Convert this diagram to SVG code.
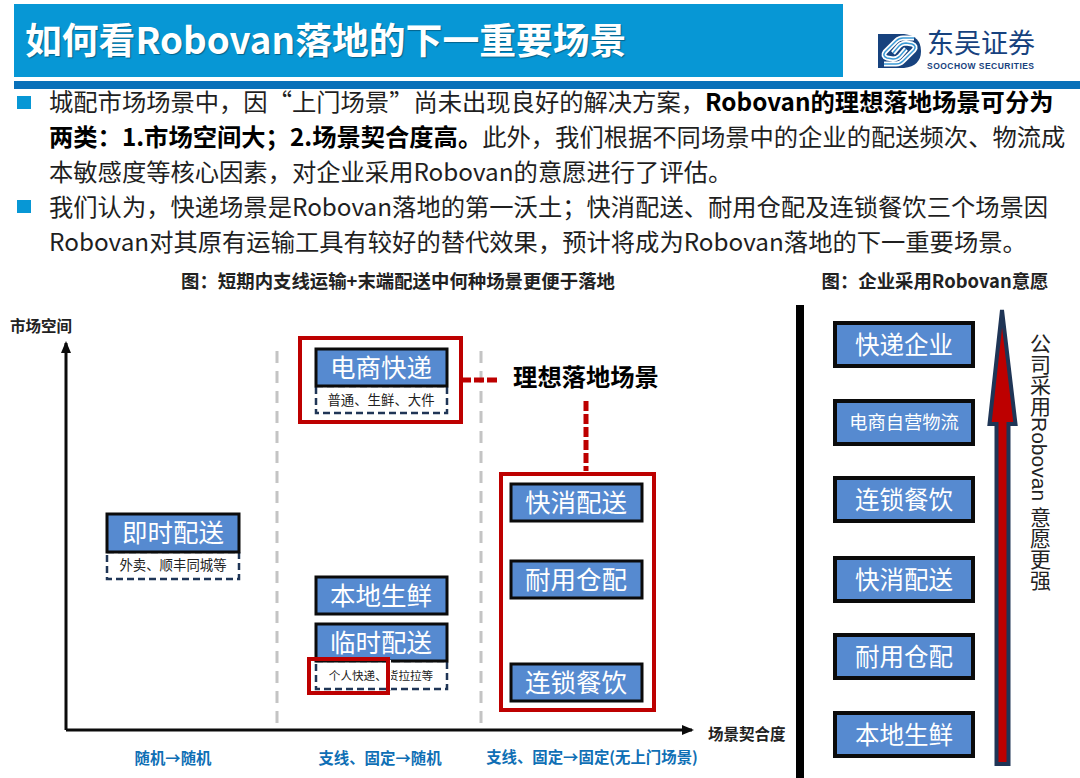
<svg xmlns="http://www.w3.org/2000/svg" width="1080" height="778" viewBox="0 0 1080 778">
<style>
text{font-family:"Noto Sans CJK SC","Noto Sans",sans-serif}
.body{font-size:24.3px;fill:#1f1f1f}
.b{font-weight:700;fill:#000}
.cap{font-size:18.4px;font-weight:700;fill:#222;text-anchor:middle}
.axis{font-size:15.5px;font-weight:700;fill:#222}
.cat{font-size:15.4px;font-weight:700;fill:#0f6fb5;text-anchor:middle}
.box{fill:#568ad0;stroke:#0b0b0b;stroke-width:3}
.box2{fill:#568ad0;stroke:#0b0b0b;stroke-width:4}
.lab{font-size:25.5px;fill:#fff;text-anchor:middle}
.rk{font-size:24.5px;fill:#fff;text-anchor:middle}
.sub{fill:#fff;stroke:#1f3556;stroke-width:2.5;stroke-dasharray:7 4}
.subt{font-size:13.4px;fill:#222;text-anchor:middle}
.red{fill:none;stroke:#bd0000;stroke-width:4}
.reddash{fill:none;stroke:#bd0000;stroke-width:5;stroke-dasharray:10 3}
.grey{fill:none;stroke:#c4c4c4;stroke-width:3;stroke-dasharray:12 8}
.ax{fill:none;stroke:#0b0b0b;stroke-width:3}
</style>
<defs>
<marker id="ah" markerWidth="12" markerHeight="10" refX="10" refY="5" orient="auto" markerUnits="userSpaceOnUse"><path d="M0 0L12 5L0 10z" fill="#0b0b0b"/></marker>
</defs>
<rect width="1080" height="778" fill="#fff"/>
<g id="header">
<rect x="14" y="4" width="829" height="73" fill="#0797d5"/>
<text x="25" y="54" font-size="36.8" font-weight="700" fill="#fff" style="text-shadow:1px 1px 1px rgba(0,0,0,.35)">如何看Robovan落地的下一重要场景</text>
<rect x="14" y="81" width="1066" height="8" fill="#0870b9"/>
</g>
<g id="logo">
<path d="M878 34H904Q921 36 921 51Q921 66 904 68H878z" fill="#17427e"/>
<path d="M914 38H903Q899 38 896 41L885 52Q882 56 887 58L893 59Q897 59 900 56L906 49M884 64H896Q900 64 903 61L914 50Q917 46 912 44L906 43Q902 43 899 46L893 53" fill="none" stroke="#fff" stroke-width="5"/>
<path d="M914 38H903Q899 38 896 41L885 52Q882 56 887 58L893 59Q897 59 900 56L906 49M884 64H896Q900 64 903 61L914 50Q917 46 912 44L906 43Q902 43 899 46L893 53" fill="none" stroke="#3c9ad6" stroke-width="1.5"/>
<text x="927" y="53" font-size="27" fill="#17427e">东吴证券</text>
<text x="927" y="68.5" font-size="8.5" font-weight="700" fill="#17427e" textLength="107" style="font-family:'Liberation Sans',sans-serif">SOOCHOW SECURITIES</text>
</g>
<g id="bullets">
<rect x="17" y="96" width="14" height="13" fill="#0797d5"/>
<rect x="17" y="200" width="14" height="13" fill="#0797d5"/>
<text class="body" x="49" y="111">城配市场场景中，因“上门场景”尚未出现良好的解决方案，<tspan class="b">Robovan的理想落地场景可分为</tspan></text>
<text class="body" x="49" y="146"><tspan class="b">两类：1.市场空间大；2.场景契合度高。</tspan>此外，我们根据不同场景中的企业的配送频次、物流成</text>
<text class="body" x="49" y="181">本敏感度等核心因素，对企业采用Robovan的意愿进行了评估。</text>
<text class="body" x="49" y="216">我们认为，快递场景是Robovan落地的第一沃土；快消配送、耐用仓配及连锁餐饮三个场景因</text>
<text class="body" x="49" y="251">Robovan对其原有运输工具有较好的替代效果，预计将成为Robovan落地的下一重要场景。</text>
</g>
<g id="captions">
<text class="cap" x="398" y="288">图：短期内支线运输+末端配送中何种场景更便于落地</text>
<text class="cap" x="935" y="288">图：企业采用Robovan意愿</text>
<text class="axis" x="10" y="332">市场空间</text>
<text class="axis" x="708" y="740">场景契合度</text>
<text class="cat" x="173" y="764">随机→随机</text>
<text class="cat" x="380" y="764">支线、固定→随机</text>
<text class="cat" x="592" y="763">支线、固定→固定(无上门场景)</text>
</g>
<g id="connectors">
<path class="ax" d="M66 730V343" marker-end="url(#ah)"/>
<path class="ax" d="M66 730H692" marker-end="url(#ah)"/>
<path class="grey" d="M277 351V730"/>
<path class="grey" d="M481 351V730"/>
<path class="reddash" d="M461 380H500"/>
<path class="reddash" d="M586 401V471"/>
<path d="M800 305V778" stroke="#000" stroke-width="8" fill="none"/>
</g>
<g id="node-jishi">
<rect class="sub" x="107" y="552" width="132" height="27"/>
<rect class="box" x="107" y="514" width="132" height="38"/>
<text class="lab" x="173" y="542">即时配送</text>
<text class="subt" x="173" y="570">外卖、顺丰同城等</text>
</g>
<g id="node-dianshang">
<rect class="red" x="300" y="338" width="161" height="84"/>
<rect class="sub" x="316" y="386" width="131" height="27"/>
<rect class="box" x="316" y="349" width="131" height="37"/>
<text class="lab" x="381" y="377">电商快递</text>
<text class="subt" x="381" y="405">普通、生鲜、大件</text>
</g>
<g id="node-ideal">
<text x="586" y="386" font-size="24.3" font-weight="700" fill="#000" text-anchor="middle">理想落地场景</text>
</g>
<g id="node-bendi">
<rect class="box" x="316" y="577" width="131" height="37"/>
<text class="lab" x="381" y="605">本地生鲜</text>
</g>
<g id="node-linshi">
<rect class="sub" x="316" y="661" width="131" height="28"/>
<rect class="box" x="316" y="624" width="131" height="37"/>
<text class="lab" x="381" y="652">临时配送</text>
<text class="subt" x="381" y="680" style="font-size:11.6px">个人快递、货拉拉等</text>
<rect x="388" y="660" width="3" height="30" fill="#fff"/>
<rect class="red" x="309" y="659" width="79" height="34"/>
</g>
<g id="node-group-right">
<rect class="red" x="501" y="474" width="153" height="236"/>
<rect class="box" x="511" y="484" width="131" height="37"/>
<text class="lab" x="576" y="512">快消配送</text>
<rect class="box" x="511" y="561" width="131" height="37"/>
<text class="lab" x="576" y="589">耐用仓配</text>
<rect class="box" x="511" y="664" width="131" height="37"/>
<text class="lab" x="576" y="692">连锁餐饮</text>
</g>
<g id="rank-1"><rect class="box2" x="835" y="323" width="138" height="43"/><text class="rk" x="904" y="354">快递企业</text></g>
<g id="rank-2"><rect class="box2" x="835" y="401" width="138" height="43"/><text class="rk" x="904" y="429" style="font-size:18.3px">电商自营物流</text></g>
<g id="rank-3"><rect class="box2" x="835" y="478" width="138" height="43"/><text class="rk" x="904" y="509">连锁餐饮</text></g>
<g id="rank-4"><rect class="box2" x="835" y="558" width="138" height="43"/><text class="rk" x="904" y="589">快消配送</text></g>
<g id="rank-5"><rect class="box2" x="835" y="635" width="138" height="43"/><text class="rk" x="904" y="666">耐用仓配</text></g>
<g id="rank-6"><rect class="box2" x="835" y="713" width="138" height="43"/><text class="rk" x="904" y="744">本地生鲜</text></g>
<g id="arrow">
<path d="M1002 310L1015.500 424H1008.500V764H996.500V424H989.500z" fill="#bd0000" stroke="#1f3556" stroke-width="4"/>
</g>
<g id="arrow-label">
<text x="1039" y="333" font-size="21" fill="#222" writing-mode="vertical-rl" style="font-family:'Liberation Sans','Noto Sans CJK SC',sans-serif">公司采用Robovan 意愿更强</text>
</g>
</svg>
